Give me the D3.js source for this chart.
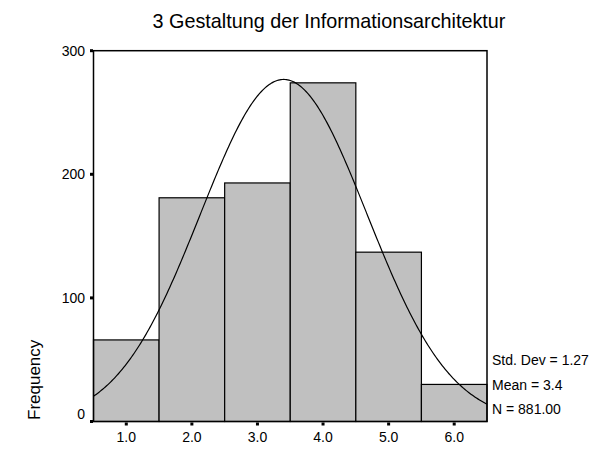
<!DOCTYPE html>
<html>
<head>
<meta charset="utf-8">
<script src="https://cdn.jsdelivr.net/npm/d3@7"></script>
<style>
  body { margin: 0; background: #fff; }
  text { font-family: "Liberation Sans", Arial, sans-serif; fill: #000; }
</style>
</head>
<body>
<svg id="chart" width="608" height="449"></svg>
<script>
// histogram bins (midpoints) and counts
const binMids = [1, 2, 3, 4, 5, 6];
const counts = [66, 181, 193, 274, 137, 30];
const yTicks = [0, 100, 200, 300];
const statLines = ['Std. Dev = 1.27', 'Mean = 3.4', 'N = 881.00'];
const mean = 3.4, sd = 1.27, n = 881;

const svg = d3.select('#chart');
const plotLeft = 93.5, plotRight = 487, plotTop = 50.7, plotBottom = 421.5;

const x = d3.scaleLinear().domain([0.5, 6.5]).range([plotLeft, plotRight]);
const y = d3.scaleLinear().domain([0, 300]).range([plotBottom, plotTop]);

// title
svg.append('text')
  .attr('x', 329)
  .attr('y', 28)
  .attr('text-anchor', 'middle')
  .attr('font-size', 19.8)
  .text('3 Gestaltung der Informationsarchitektur');

// bars
svg.selectAll('rect.bar')
  .data(binMids)
  .join('rect')
  .attr('class', 'bar')
  .attr('x', (d) => x(d - 0.5))
  .attr('width', (d) => x(d + 0.5) - x(d - 0.5))
  .attr('y', (d, i) => y(counts[i]))
  .attr('height', (d, i) => y(0) - y(counts[i]))
  .attr('fill', '#c0c0c0')
  .attr('stroke', '#000')
  .attr('stroke-width', 1.2);

// normal curve
const curveX = d3.range(0.5, 6.5001, 0.02);
const normal = (v) => n * Math.exp(-0.5 * ((v - mean) / sd) ** 2) / (sd * Math.sqrt(2 * Math.PI));
svg.append('path')
  .datum(curveX)
  .attr('fill', 'none')
  .attr('stroke', '#000')
  .attr('stroke-width', 1.2)
  .attr('d', d3.line().x((d) => x(d)).y((d) => y(normal(d))));

// frame
svg.append('rect')
  .attr('x', plotLeft)
  .attr('y', plotTop)
  .attr('width', plotRight - plotLeft)
  .attr('height', plotBottom - plotTop)
  .attr('fill', 'none')
  .attr('stroke', '#000')
  .attr('stroke-width', 1.5);

// y ticks as small squares
svg.selectAll('rect.ytick')
  .data(yTicks)
  .join('rect')
  .attr('class', 'ytick')
  .attr('x', plotLeft - 3.5)
  .attr('y', (d) => y(d) - 1.5)
  .attr('width', 3)
  .attr('height', 3)
  .attr('fill', '#000');

svg.selectAll('text.ylab')
  .data(yTicks)
  .join('text')
  .attr('class', 'ylab')
  .attr('x', 85)
  .attr('y', (d) => y(d) + (d === 0 ? -3 : 5))
  .attr('text-anchor', 'end')
  .attr('font-size', 14)
  .text((d) => d);

// x ticks
svg.selectAll('rect.xtick')
  .data(binMids)
  .join('rect')
  .attr('class', 'xtick')
  .attr('x', (d) => x(d) - 1.5)
  .attr('y', plotBottom + 1)
  .attr('width', 3)
  .attr('height', 3)
  .attr('fill', '#000');

svg.selectAll('text.xlab')
  .data(binMids)
  .join('text')
  .attr('class', 'xlab')
  .attr('x', (d) => x(d))
  .attr('y', 442)
  .attr('text-anchor', 'middle')
  .attr('font-size', 14)
  .text((d) => d3.format('.1f')(d));

// axis title
svg.append('text')
  .attr('transform', 'translate(40,420) rotate(-90)')
  .attr('font-size', 17)
  .text('Frequency');

// stats
svg.selectAll('text.stat')
  .data(statLines)
  .join('text')
  .attr('class', 'stat')
  .attr('x', 492)
  .attr('y', (d, i) => 365 + i * 24.5)
  .attr('font-size', 14)
  .text((d) => d);
</script>
</body>
</html>
